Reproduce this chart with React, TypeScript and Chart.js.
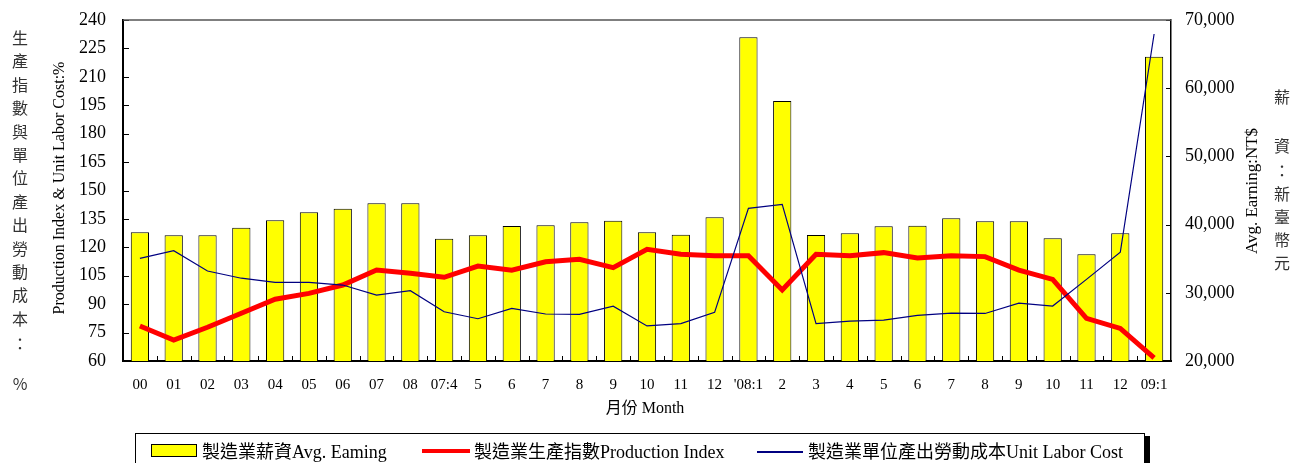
import React, { useEffect, useRef } from "react";
import { Chart, registerables } from "chart.js";

Chart.register(...registerables);

const categories = ["00","01","02","03","04","05","06","07","08","07:4","5","6","7","8","9","10","11","12","'08:1","2","3","4","5","6","7","8","9","10","11","12","09:1"];

const avgEarning = [38870,38430,38430,39550,40630,41800,42330,43120,43120,37940,38430,39800,39890,40330,40570,38870,38520,41070,67460,58120,38480,38720,39750,39840,40920,40480,40480,37990,35650,38720,64620];

const productionIndex = [78.5,71.1,77.8,85.2,92.6,95.7,100.1,108.0,106.3,104.2,110.1,107.9,112.4,113.7,109.3,119.0,116.3,115.6,115.6,97.5,116.3,115.6,117.2,114.4,115.6,115.1,108.0,103.1,82.5,77.2,61.6];

const unitLaborCost = [114.2,118.2,107.5,103.7,101.5,101.5,100.1,94.8,97.1,86.0,82.3,87.8,84.8,84.6,88.9,78.5,79.7,85.7,140.6,142.7,79.7,81.1,81.6,84.1,85.3,85.1,90.5,89.0,103.1,117.4,232.6];

const leftTicks = { min: 60, max: 240, step: 15 };
const rightTicks = { min: 20000, max: 70000, step: 10000 };

const seriesNames = ["製造業薪資Avg. Eaming", "製造業生產指數Production Index", "製造業單位產出勞動成本Unit Labor Cost"];
const leftCn = ["生","產","指","數","與","單","位","產","出","勞","動","成","本","：","%"];
const rightCn = ["薪","資","：","新","臺","幣","元"];

const SERIF = '"Liberation Serif", "Times New Roman", "Noto Sans CJK TC", serif';

const framePlugin = {
  id: "frame",
  afterDraw(chart: any) {
    const { ctx, chartArea: a, scales } = chart;
    ctx.save();
    const line = (x1: number, y1: number, x2: number, y2: number) => {
      ctx.beginPath();
      ctx.moveTo(x1, y1);
      ctx.lineTo(x2, y2);
      ctx.stroke();
    };
    ctx.strokeStyle = "#000";
    ctx.lineWidth = 1;
    const y = scales.y;
    y.ticks.forEach((_t: any, i: number) => {
      const py = Math.round(y.getPixelForTick(i)) + 0.5;
      line(a.left, py, a.left + 6, py);
    });
    const y1 = scales.y1;
    y1.ticks.forEach((_t: any, i: number) => {
      const py = Math.round(y1.getPixelForTick(i)) + 0.5;
      line(a.right, py, a.right - 5, py);
    });
    const x = scales.x;
    for (let i = 1; i < categories.length; i++) {
      const px = Math.round((x.getPixelForTick(i - 1) + x.getPixelForTick(i)) / 2) + 0.5;
      line(px, a.bottom, px, a.bottom - 5);
    }
    ctx.strokeStyle = "#555";
    ctx.lineWidth = 1.5;
    line(a.left, a.top, a.right, a.top);
    ctx.restore();
  },
};

const zeroPad = (s: any) => {
  s.paddingTop = 0;
  s.paddingBottom = 0;
  s.paddingLeft = 0;
  s.paddingRight = 0;
};

export default function App() {
  const ref = useRef<HTMLCanvasElement>(null);
  useEffect(() => {
    const chart = new Chart(ref.current as HTMLCanvasElement, {
      type: "bar",
      data: {
        labels: categories,
        datasets: [
          {
            type: "line",
            label: seriesNames[1],
            data: productionIndex,
            yAxisID: "y",
            borderColor: "#FF0000",
            borderWidth: 5,
            pointRadius: 0,
            tension: 0,
            order: 1,
          } as any,
          {
            type: "line",
            label: seriesNames[2],
            data: unitLaborCost,
            yAxisID: "y",
            borderColor: "#000080",
            borderWidth: 1.2,
            pointRadius: 0,
            tension: 0,
            order: 0,
          } as any,
          {
            type: "bar",
            label: seriesNames[0],
            data: avgEarning,
            yAxisID: "y1",
            backgroundColor: "#FFFF00",
            borderColor: "#000",
            borderWidth: 1,
            barPercentage: 0.54,
            categoryPercentage: 1,
            order: 2,
          } as any,
        ],
      },
      options: {
        responsive: false,
        animation: false,
        layout: { padding: { top: 20, left: 0, right: 0, bottom: 0 } },
        plugins: { legend: { display: false }, tooltip: { enabled: false } },
        scales: {
          x: {
            grid: { display: false, drawTicks: false },
            border: { display: true, color: "#000", width: 2 },
            ticks: { color: "#000", font: { family: SERIF, size: 15 }, padding: 15, maxRotation: 0, autoSkip: false },
            afterFit: (s: any) => { s.height = 102; zeroPad(s); },
          },
          y: {
            position: "left",
            min: leftTicks.min,
            max: leftTicks.max,
            grid: { display: false, drawTicks: false },
            border: { display: true, color: "#000", width: 2 },
            ticks: { stepSize: leftTicks.step, color: "#000", font: { family: SERIF, size: 18 }, padding: 17 },
            afterFit: (s: any) => { s.width = 123; zeroPad(s); },
          },
          y1: {
            position: "right",
            min: rightTicks.min,
            max: rightTicks.max,
            grid: { display: false, drawTicks: false },
            border: { display: true, color: "#000", width: 1.5 },
            ticks: {
              stepSize: rightTicks.step,
              color: "#000",
              font: { family: SERIF, size: 18 },
              padding: 14,
              callback: (v: any) => Number(v).toLocaleString("en-US"),
            },
            afterFit: (s: any) => { s.width = 124; zeroPad(s); },
          },
        },
      },
      plugins: [framePlugin],
    } as any);
    return () => chart.destroy();
  }, []);

  const cnStyle = (x: number, y: number): React.CSSProperties => ({
    position: "absolute",
    left: x - 10,
    top: y - 11,
    width: 20,
    height: 22,
    lineHeight: "22px",
    textAlign: "center",
    fontSize: 16,
    color: "#333",
    fontFamily: '"Noto Sans CJK TC", sans-serif',
  });

  const leftY = [37, 60.4, 83.8, 107.2, 130.6, 154, 177.4, 200.8, 224.2, 247.6, 271, 294.4, 317.8, 343, 383];
  const rightY = [96, 145, 170, 193, 216, 239, 262];

  return (
    <div style={{ position: "absolute", left: 0, top: 0, width: 1295, height: 463, overflow: "hidden", background: "#fff" }}>
      <canvas ref={ref} width={1295} height={463} style={{ position: "absolute", left: 0, top: 0, width: 1295, height: 463 }} />
      {leftCn.map((c, i) => (
        <div key={"l" + i} style={cnStyle(20, leftY[i])}>{c}</div>
      ))}
      {rightCn.map((c, i) => (
        <div key={"r" + i} style={cnStyle(1282, rightY[i])}>{c}</div>
      ))}
      <div style={{ position: "absolute", left: 59 - 150, top: 188 - 10, width: 300, height: 20, lineHeight: "20px", textAlign: "center", transform: "rotate(-90deg)", fontFamily: SERIF, fontSize: 16, color: "#000", whiteSpace: "nowrap" }}>
        Production Index &amp; Unit Labor Cost:%
      </div>
      <div style={{ position: "absolute", left: 1252 - 100, top: 191 - 10, width: 200, height: 20, lineHeight: "20px", textAlign: "center", transform: "rotate(-90deg)", fontFamily: SERIF, fontSize: 17, color: "#000", whiteSpace: "nowrap" }}>
        Avg. Earning:NT$
      </div>
      <div style={{ position: "absolute", left: 545, top: 398, width: 200, height: 20, lineHeight: "20px", textAlign: "center", fontFamily: SERIF, fontSize: 16, color: "#000", whiteSpace: "nowrap" }}>
        月份 Month
      </div>
      <div style={{ position: "absolute", left: 135, top: 433, width: 1010, height: 50, border: "1px solid #000", boxSizing: "border-box" }} />
      <div style={{ position: "absolute", left: 1145, top: 436, width: 5, height: 40, background: "#000" }} />
      <div style={{ position: "absolute", left: 151, top: 444, width: 46, height: 13, background: "#FFFF00", border: "1px solid #000", boxSizing: "border-box" }} />
      <div style={{ position: "absolute", left: 422, top: 449, width: 48, height: 4, background: "#FF0000" }} />
      <div style={{ position: "absolute", left: 757, top: 451, width: 46, height: 1.5, background: "#000080" }} />
      {[202, 474, 808].map((x, i) => (
        <div key={"lg" + i} style={{ position: "absolute", left: x, top: 441, height: 22, lineHeight: "22px", fontFamily: SERIF, fontSize: 18, color: "#000", whiteSpace: "nowrap" }}>
          {seriesNames[i]}
        </div>
      ))}
    </div>
  );
}
